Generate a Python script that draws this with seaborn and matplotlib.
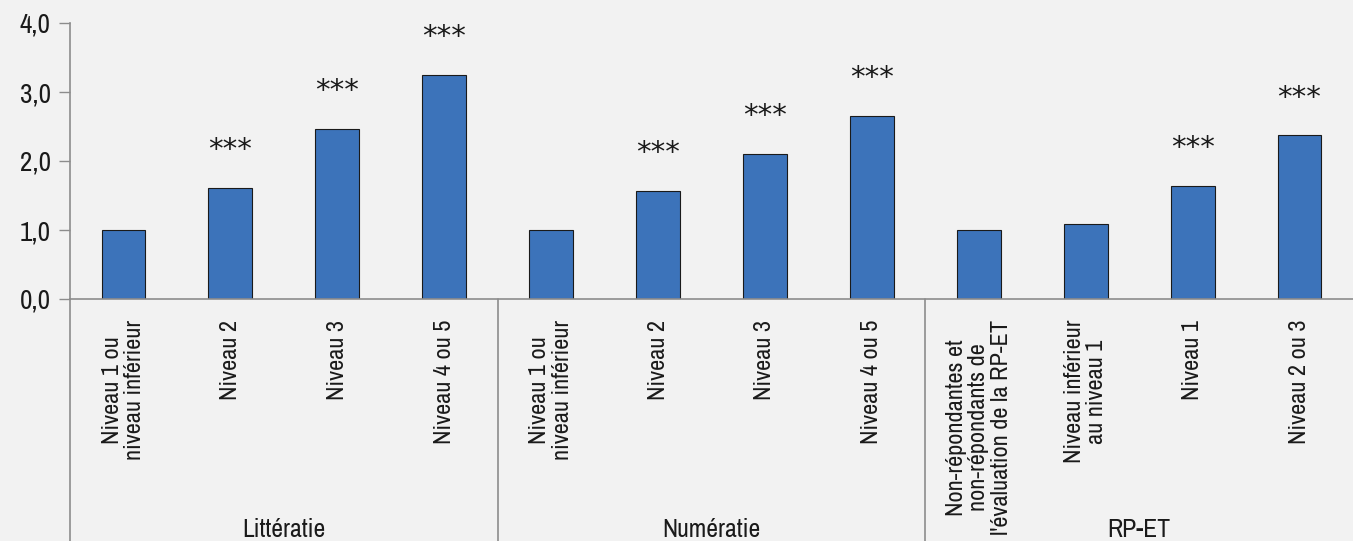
import matplotlib

matplotlib.use("Agg")
import matplotlib.pyplot as plt
import matplotlib.transforms as mtransforms
import pandas as pd
import seaborn as sns

sns.set_theme(style="white")
plt.rcParams["font.family"] = ["Archivo Narrow", "Liberation Sans Narrow", "DejaVu Sans"]

BLUE, GREY, BG, INK = "#3c73ba", "#8c8c8c", "#f2f2f2", "#1a1a1a"

groups = ["Littératie", "Numératie", "RP-ET"]
labels = [
    "Niveau 1 ou\nniveau inférieur", "Niveau 2", "Niveau 3", "Niveau 4 ou 5",
    "Niveau 1 ou\nniveau inférieur", "Niveau 2", "Niveau 3", "Niveau 4 ou 5",
    "Non-répondantes et\nnon-répondants de\nl'évaluation de la RP-ET",
    "Niveau inférieur\nau niveau 1", "Niveau 1", "Niveau 2 ou 3",
]
group_of = ["Littératie"] * 4 + ["Numératie"] * 4 + ["RP-ET"] * 4
values = [1.0, 1.61, 2.47, 3.24, 1.0, 1.56, 2.10, 2.65, 1.0, 1.08, 1.64, 2.37]
stars = ["", "***", "***", "***", "", "***", "***", "***", "", "", "***", "***"]

df = pd.DataFrame({"key": [f"{g}|{i}" for i, g in enumerate(group_of)],
                   "value": values})

fig = plt.figure(figsize=(13.53, 5.41), dpi=100, facecolor=BG)
ax = fig.add_axes([70 / 1353, 242 / 541, 1283 / 1353, 276 / 541])
ax.set_facecolor(BG)

sns.barplot(data=df, x="key", y="value", color=BLUE, width=0.41,
            edgecolor=INK, linewidth=0.8, saturation=1, ax=ax)

ax.set_ylim(0, 4)
ax.set_xlim(-0.5, len(values) - 0.5)
ax.set_yticks([0, 1, 2, 3, 4])
ax.set_yticklabels([f"{t:.1f}".replace(".", ",") for t in [0, 1, 2, 3, 4]],
                   fontsize=19.5, color=INK)
ax.tick_params(axis="y", length=8, width=1, color=GREY, pad=6, left=True)
ax.set_xticks([])
ax.set_xlabel(""); ax.set_ylabel("")
for s in ["top", "right"]:
    ax.spines[s].set_visible(False)
for s in ["left", "bottom"]:
    ax.spines[s].set_color(GREY); ax.spines[s].set_linewidth(1.2)

# significance stars, in a font with full-size asterisks
for i, (v, s) in enumerate(zip(values, stars)):
    if s:
        ax.text(i, v + 0.55, s, ha="center", va="center", fontsize=21,
                family="DejaVu Sans", color=INK)

trans = mtransforms.blended_transform_factory(ax.transData, ax.transAxes)
for i, lab in enumerate(labels):
    ax.text(i, -0.075, lab, rotation=90, ha="center", va="top",
            multialignment="center", fontsize=17.5, color=INK,
            linespacing=1.08, transform=trans)

for xsep in [-0.5, 3.5, 7.5]:
    ax.plot([xsep, xsep], [0, -0.9], color=GREY, lw=1.2,
            transform=trans, clip_on=False)

for k, g in enumerate(groups):
    ax.text(4 * k + 1.5, -0.835, g, ha="center", va="center", fontsize=18.5,
            color=INK, transform=trans)

fig.savefig("out.png", dpi=100, facecolor=BG)
